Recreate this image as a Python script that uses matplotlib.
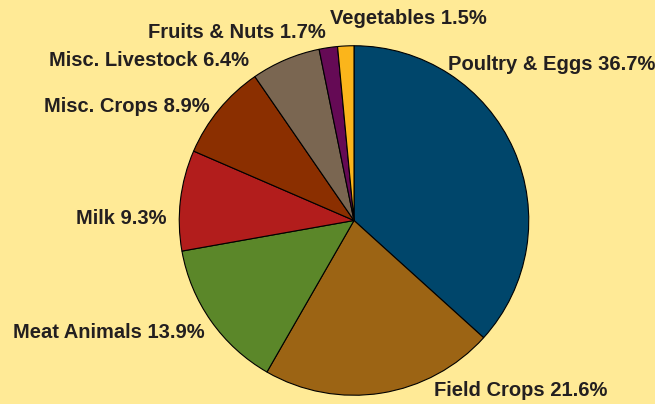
import matplotlib
matplotlib.use('Agg')
import matplotlib.pyplot as plt

# Share of farm receipts by commodity
categories = ['Poultry & Eggs', 'Field Crops', 'Meat Animals', 'Milk',
              'Misc. Crops', 'Misc. Livestock', 'Fruits & Nuts', 'Vegetables']
shares = [36.7, 21.6, 13.9, 9.3, 8.9, 6.4, 1.7, 1.5]
colors = ['#00466B', '#9C6414', '#5B8729', '#B21D1C',
          '#8B2F00', '#7A6651', '#650A55', '#FBB51B']

# label anchor points in pixels (right x, center y from top)
label_pos = [(655, 65), (607, 391), (205, 333), (167, 218),
             (210, 107), (249, 60), (326, 32), (487, 19)]

W, H = 655, 404
bg = '#FFEA96'

fig = plt.figure(figsize=(W / 100, H / 100), dpi=100, facecolor=bg)

cx, cy, r = 354, 220.5, 176.5
ax = fig.add_axes([(cx - r) / W, (H - cy - r) / H, 2 * r / W, 2 * r / H])
ax.set_facecolor(bg)
ax.pie(shares, colors=colors, startangle=90, counterclock=False, radius=1,
       wedgeprops=dict(edgecolor='black', linewidth=0.8))
ax.set_xlim(-1.01, 1.01)
ax.set_ylim(-1.01, 1.01)
ax.set_aspect('equal')
ax.axis('off')

for name, val, (px, py) in zip(categories, shares, label_pos):
    fig.text(px / W, 1 - py / H, f'{name} {val}%', ha='right', va='center',
             fontsize=14.5, fontweight='bold', color='#231F20',
             family=['Liberation Sans', 'DejaVu Sans'])

plt.savefig('out.png', dpi=100, facecolor=bg)
